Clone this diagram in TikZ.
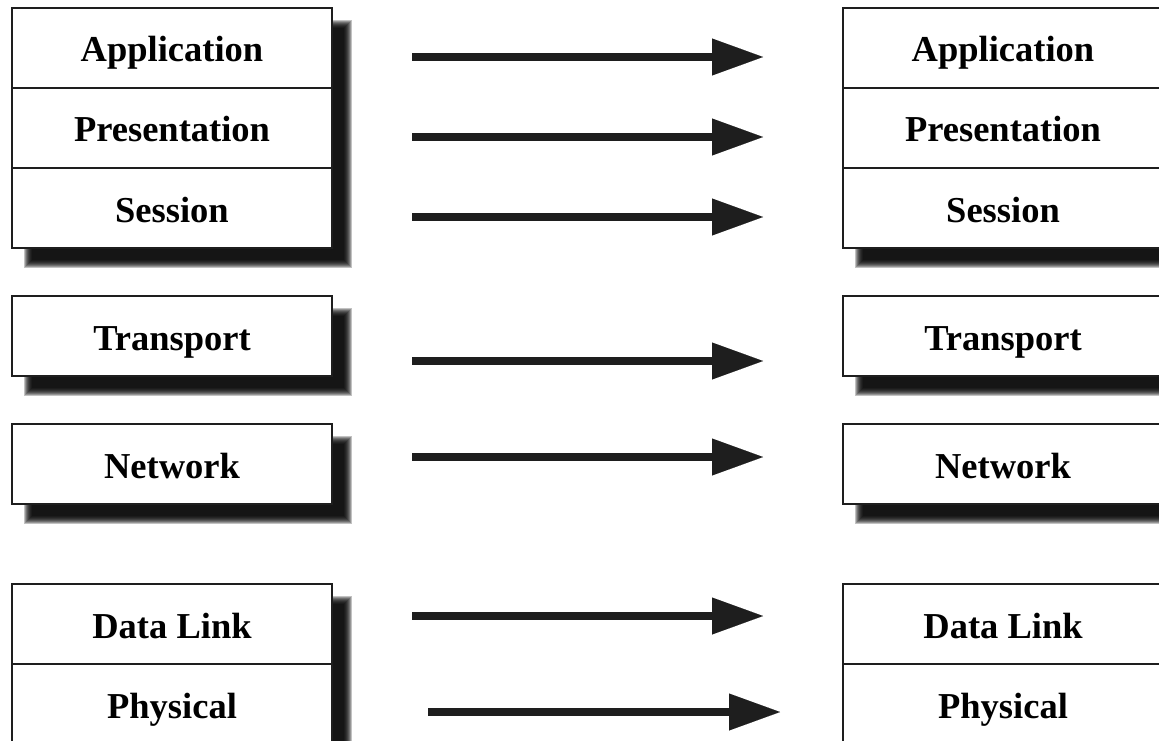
\documentclass[tikz,border=0pt]{standalone}
\usepackage{fontspec}
\setmainfont{Liberation Serif}
\usetikzlibrary{arrows.meta}
\definecolor{ink}{HTML}{1E1E1E}
\tikzset{
  layer/.style={draw=ink, line width=1.5pt, fill=white, minimum width=320pt,
    minimum height=80pt, inner sep=0pt, text height=34pt, text depth=6pt,
    font=\fontsize{36.5}{40}\selectfont\bfseries, text=black},
  flow/.style={draw=ink, line width=7.3pt,
    -{Triangle[length=51pt,width=37pt,line width=0.01pt]}},
}
\newcommand\softshadow[4]{%
  \foreach \i in {0,...,8}{%
    \fill[black, opacity=0.24] ({#1+20-\i},{#2+20-\i}) rectangle ({#3+12+\i},{#4+12+\i});
  }%
}
\begin{document}
\begin{tikzpicture}[x=1pt,y=-1pt]
\useasboundingbox (0,0) rectangle (1159,741);
\clip (0,0) rectangle (1159,741);
% shadows left
\softshadow{12}{8}{332}{248}
\softshadow{12}{296}{332}{376}
\softshadow{12}{424}{332}{504}
\softshadow{12}{584}{332}{744}
% shadows right
\softshadow{843}{8}{1163}{248}
\softshadow{843}{296}{1163}{376}
\softshadow{843}{424}{1163}{504}
\softshadow{843}{584}{1163}{744}
% left stack
\node[layer] (LA) at (172,48)  {Application};
\node[layer] (LP) at (172,128) {Presentation};
\node[layer] (LS) at (172,208) {Session};
\node[layer] (LT) at (172,336) {Transport};
\node[layer] (LN) at (172,464) {Network};
\node[layer] (LD) at (172,624) {Data Link};
\node[layer] (LH) at (172,704) {Physical};
% right stack
\node[layer] (RA) at (1003,48)  {Application};
\node[layer] (RP) at (1003,128) {Presentation};
\node[layer] (RS) at (1003,208) {Session};
\node[layer] (RT) at (1003,336) {Transport};
\node[layer] (RN) at (1003,464) {Network};
\node[layer] (RD) at (1003,624) {Data Link};
\node[layer] (RH) at (1003,704) {Physical};
% arrows
\coordinate (a1s) at (412,57);  \coordinate (a1e) at (763,57);
\coordinate (a2s) at (412,137); \coordinate (a2e) at (763,137);
\coordinate (a3s) at (412,217); \coordinate (a3e) at (763,217);
\coordinate (a4s) at (412,361); \coordinate (a4e) at (763,361);
\coordinate (a5s) at (412,457); \coordinate (a5e) at (763,457);
\coordinate (a6s) at (412,616); \coordinate (a6e) at (763,616);
\coordinate (a7s) at (428,712); \coordinate (a7e) at (780,712);
\draw[flow] (a1s) -- (a1e);
\draw[flow] (a2s) -- (a2e);
\draw[flow] (a3s) -- (a3e);
\draw[flow] (a4s) -- (a4e);
\draw[flow] (a5s) -- (a5e);
\draw[flow] (a6s) -- (a6e);
\draw[flow] (a7s) -- (a7e);
\end{tikzpicture}
\end{document}
